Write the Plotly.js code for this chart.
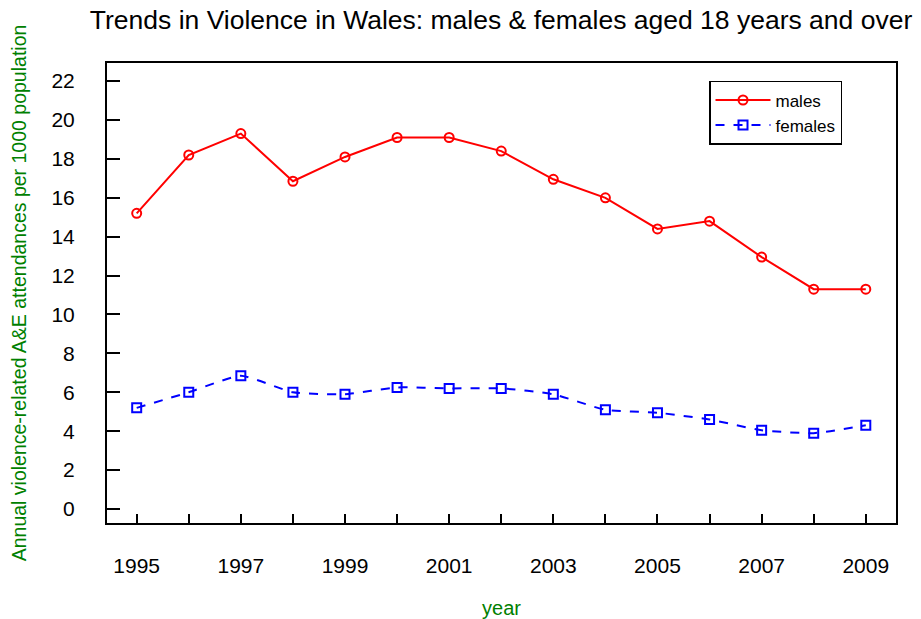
<!DOCTYPE html>
<html>
<head>
<meta charset="utf-8">
<script src="https://cdn.plot.ly/plotly-3.0.1.min.js"></script>
<style>html,body{margin:0;padding:0;background:#fff;}#chart{width:921px;height:619px;}</style>
</head>
<body>
<div id="chart"></div>
<script>
const years = [1995,1996,1997,1998,1999,2000,2001,2002,2003,2004,2005,2006,2007,2008,2009];
const males = [15.2,18.2,19.3,16.85,18.1,19.1,19.1,18.4,16.95,16.0,14.4,14.8,12.95,11.3,11.3];
const females = [5.2,6.0,6.85,6.0,5.9,6.25,6.2,6.2,5.9,5.1,4.95,4.6,4.05,3.9,4.3];
const tickLabels = years.map(y => (y % 2 === 1) ? String(y) : "");
const yTicks = [0,2,4,6,8,10,12,14,16,18,20,22];

const traces = [
  {x: years, y: males, name: "males", type: "scatter", mode: "lines+markers",
   line: {color: "#ff0000", width: 2},
   marker: {symbol: "circle-open", size: 9, color: "#ff0000", line: {width: 2}}},
  {x: years, y: females, name: "females", type: "scatter", mode: "lines+markers",
   line: {color: "#0000ff", width: 2, dash: "dash", shape: "spline", smoothing: 0.5},
   marker: {symbol: "square-open", size: 9, color: "#0000ff", line: {width: 2}}}
];

const layout = {
  width: 921, height: 619,
  margin: {l: 107, r: 25, t: 63, b: 96},
  paper_bgcolor: "#fff", plot_bgcolor: "#fff",
  font: {family: "Liberation Sans, Arial, sans-serif", color: "#000"},
  title: {text: "Trends in Violence in Wales: males & females aged 18 years and over",
          font: {size: 26.5, color: "#000"}, x: 0.544, xanchor: "center", y: 0.968, yanchor: "middle"},
  xaxis: {range: [1994.43, 2009.58], tickvals: years, ticktext: tickLabels,
          ticks: "inside", ticklen: 9, tickwidth: 2, tickcolor: "#000",
          showline: true, linewidth: 2, linecolor: "#000", mirror: true,
          showgrid: false, zeroline: false, tickfont: {size: 21},
          ticklabelstandoff: 23,
          title: {text: "year", font: {size: 20, color: "#008000"}, standoff: 30}},
  yaxis: {range: [-0.72, 22.93], tickvals: yTicks,
          ticks: "inside", ticklen: 13, tickwidth: 2, tickcolor: "#000",
          showline: true, linewidth: 2, linecolor: "#000", mirror: true,
          showgrid: false, zeroline: false, tickfont: {size: 21},
          ticklabelstandoff: 26,
          title: {text: "Annual violence-related A&E attendances per 1000 population",
                  font: {size: 19.5, color: "#008000"}, standoff: 20}},
  legend: {x: 0.763, y: 0.961, xanchor: "left", yanchor: "top",
           bordercolor: "#000", borderwidth: 1.5, bgcolor: "#fff",
           font: {size: 17}, tracegroupgap: 0, itemwidth: 55}
};

Plotly.newPlot("chart", traces, layout, {displayModeBar: false, staticPlot: true});
</script>
</body>
</html>
